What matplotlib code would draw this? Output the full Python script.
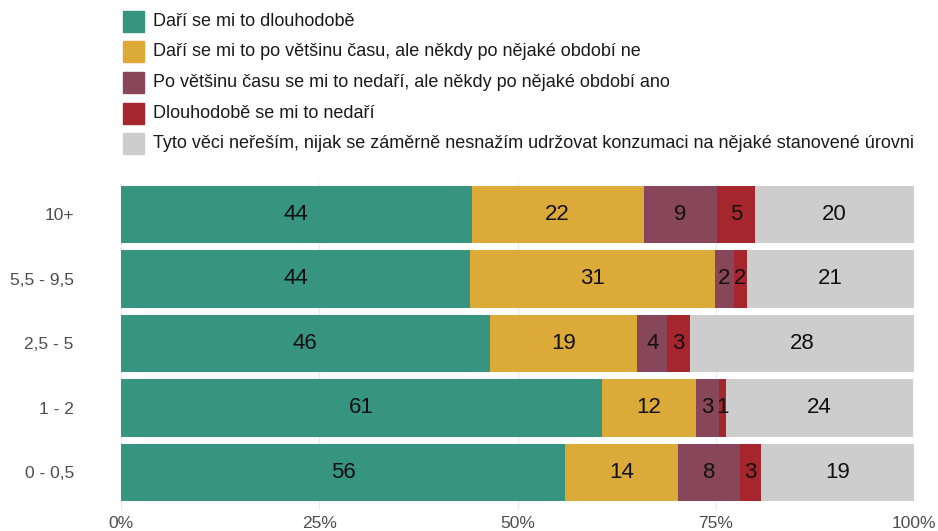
import numpy as np
import matplotlib.pyplot as plt
from matplotlib.patches import Rectangle

plt.rcParams['font.family'] = ['Liberation Sans', 'DejaVu Sans']

# kategorie (odspodu nahoru)
groups = ['0 - 0,5', '1 - 2', '2,5 - 5', '5,5 - 9,5', '10+']

# podíly odpovědí v % pro jednotlivé skupiny (stejné pořadí jako groups)
dlouhodobe = [56.0, 60.7, 46.5, 44.0, 44.2]
vetsinou = [14.3, 11.8, 18.6, 30.9, 21.7]
vetsinou_ne = [7.8, 2.9, 3.8, 2.4, 9.3]
dlouhodobe_ne = [2.6, 0.9, 2.8, 1.6, 4.7]
neresim = [19.4, 23.6, 28.3, 21.1, 20.1]

series = [dlouhodobe, vetsinou, vetsinou_ne, dlouhodobe_ne, neresim]
labels = ['Daří se mi to dlouhodobě',
          'Daří se mi to po většinu času, ale někdy po nějaké období ne',
          'Po většinu času se mi to nedaří, ale někdy po nějaké období ano',
          'Dlouhodobě se mi to nedaří',
          'Tyto věci neřeším, nijak se záměrně nesnažím udržovat konzumaci na nějaké stanovené úrovni']
colors = ['#369480', '#DCAA38', '#87465A', '#A6262E', '#CDCDCD']

W, H = 938, 531
fig = plt.figure(figsize=(W / 100, H / 100), dpi=100)
ax = fig.add_axes([121 / W, (H - 510) / H, (914 - 121) / W, (510 - 183) / H])

y = np.arange(len(groups))
left = np.zeros(len(groups))
for vals, col in zip(series, colors):
    vals = np.array(vals)
    ax.barh(y, vals, left=left, height=0.89, color=col, zorder=2)
    for yi, l, v in zip(y, left, vals):
        ax.text(l + v / 2, yi, '%.0f' % v, ha='center', va='center',
                fontsize=16, color='#111111', zorder=3)
    left += vals

ax.set_xlim(0, 100)
ax.set_ylim(-0.585, 4.488)
ax.set_xticks([0, 25, 50, 75, 100])
ax.set_xticklabels(['0%', '25%', '50%', '75%', '100%'])
ax.set_yticks(y)
ax.set_yticklabels(groups)
ax.tick_params(axis='both', length=0, labelsize=12.5, labelcolor='#4D4D4D')
ax.tick_params(axis='y', pad=34)
ax.tick_params(axis='x', pad=4)
ax.grid(axis='x', color='#EBEBEB', linewidth=1, zorder=0)
for s in ax.spines.values():
    s.set_visible(False)

# legenda
for i, (lab, col) in enumerate(zip(labels, colors)):
    yc = 21 + i * 30.7
    fig.patches.append(Rectangle((123 / W, (H - yc - 10.5) / H), 21 / W, 21 / H,
                                 transform=fig.transFigure, color=col, figure=fig))
    fig.text(153 / W, (H - yc) / H, lab, ha='left', va='center',
             fontsize=13, color='#1A1A1A')

fig.savefig('out.png', dpi=100)
